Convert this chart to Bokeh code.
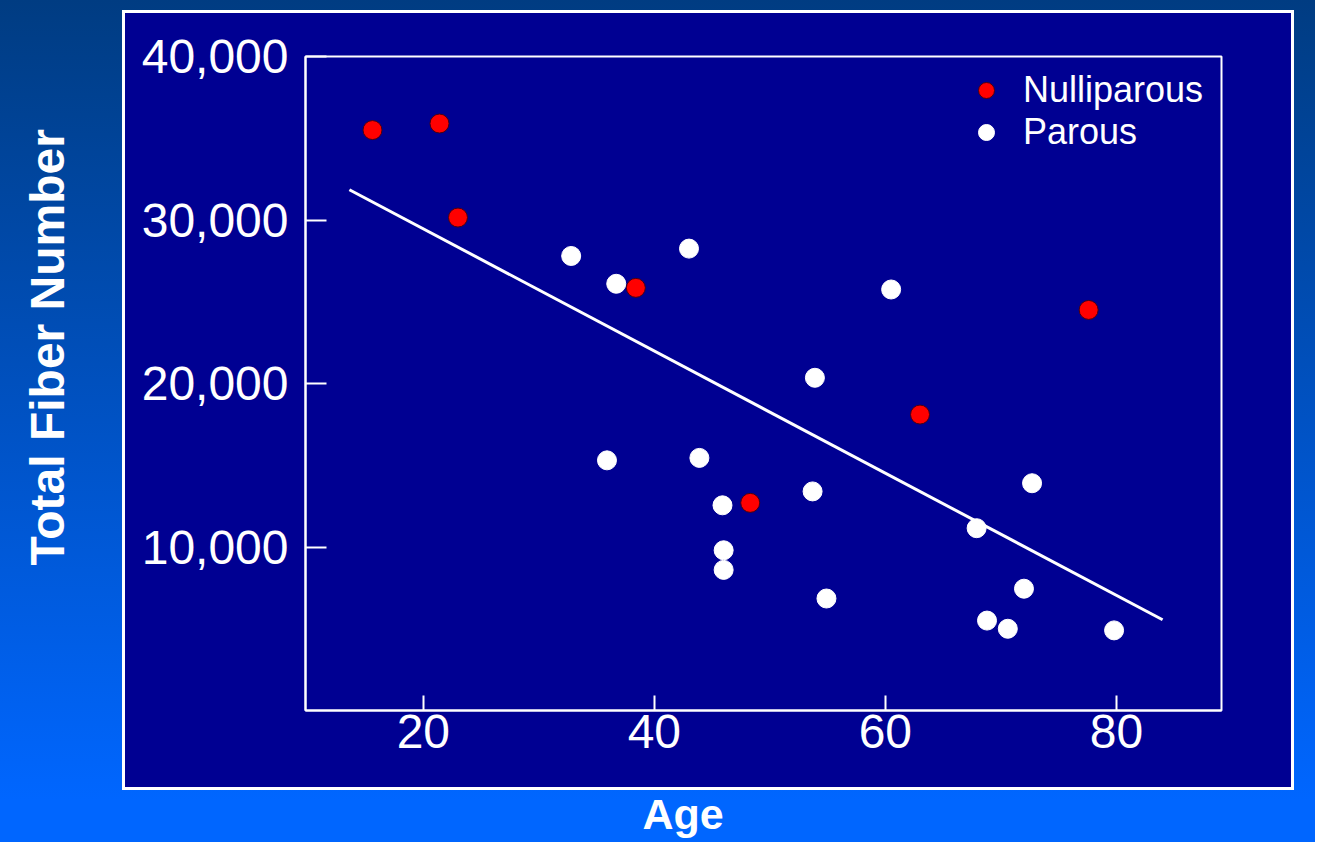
from bokeh.plotting import figure
from bokeh.models import (ColumnDataSource, FixedTicker, NumeralTickFormatter,
                          Legend, LegendItem, Title)
from bokeh.embed import file_html
from bokeh.resources import INLINE

# ---- data ----
nulli_age = [15.6, 21.4, 23.0, 38.4, 48.3, 63.0, 77.6]
nulli_fibers = [35500, 35900, 30150, 25850, 12700, 18100, 24500]

parous_age = [32.8, 36.7, 43.0, 60.5, 53.9, 35.9, 43.9, 45.9, 53.7, 46.0,
              46.0, 54.9, 72.7, 67.9, 72.0, 68.8, 70.6, 79.8]
parous_fibers = [27800, 26100, 28250, 25750, 20350, 15300, 15450, 12550, 13400, 9800,
                 8600, 6850, 13900, 11150, 7450, 5500, 5000, 4900]

fit_age = [13.6, 84.0]
fit_fibers = [31850, 5550]

x_ticks = [20, 40, 60, 80]
y_ticks = [10000, 20000, 30000, 40000]

FONT = "Liberation Sans"
NAVY = "#000092"

p = figure(width=1315, height=842, output_backend="svg", toolbar_location=None,
           x_range=(9.8, 89.1), y_range=(0, 40000),
           min_border_left=305, min_border_right=94,
           min_border_top=56, min_border_bottom=132,
           background_fill_color=NAVY, border_fill_color=None,
           outline_line_color="white", outline_line_width=2)

# page background: blue gradient with a navy, white-edged panel (pure CSS, behind the canvas)
p.styles = {
    "background": (
        f"linear-gradient({NAVY}, {NAVY}) 125px 13px / 1166px 774px no-repeat, "
        "linear-gradient(#ffffff, #ffffff) 122px 10px / 1172px 780px no-repeat, "
        "linear-gradient(to bottom, #003c82 0px, #0066ff 800px, #0066ff 842px)"
    )
}

p.grid.visible = False

# axes
for ax in (p.xaxis[0], p.yaxis[0]):
    ax.axis_line_color = "white"
    ax.axis_line_width = 2
    ax.major_tick_line_color = "white"
    ax.major_tick_line_width = 2
    ax.minor_tick_line_color = None
    ax.major_tick_out = 0
    ax.major_label_text_color = "white"
    ax.major_label_text_font = FONT
    ax.major_label_text_font_size = "48px"

p.xaxis.ticker = FixedTicker(ticks=x_ticks)
p.xaxis.major_tick_in = 15
p.xaxis.major_label_standoff = 4
p.yaxis.ticker = FixedTicker(ticks=y_ticks)
p.yaxis.major_tick_in = 21
p.yaxis.major_label_standoff = 17
p.yaxis.formatter = NumeralTickFormatter(format="0,0")

# regression line
p.line(fit_age, fit_fibers, line_color="white", line_width=3)

src_n = ColumnDataSource(dict(x=nulli_age, y=nulli_fibers))
src_p = ColumnDataSource(dict(x=parous_age, y=parous_fibers))
rn = p.scatter("x", "y", source=src_n, marker="circle", size=19,
               fill_color="#ff0000", line_color="#4a0010", line_width=1)
rp = p.scatter("x", "y", source=src_p, marker="circle", size=19,
               fill_color="white", line_color="white", line_width=1)

legend = Legend(items=[LegendItem(label="Nulliparous", renderers=[rn]),
                       LegendItem(label="Parous", renderers=[rp])],
                location=(661, 557), glyph_width=40, glyph_height=40,
                label_standoff=17, spacing=0, padding=0, margin=0,
                border_line_alpha=0, background_fill_alpha=0,
                label_text_color="white", label_text_font=FONT,
                label_text_font_size="36px")
p.add_layout(legend)

# spacers between the axes and the axis titles
p.add_layout(Title(text=" ", text_font_size="1px", standoff=60), "left")
p.add_layout(Title(text=" ", text_font_size="1px", standoff=36), "below")

# axis titles as side titles (drawn outside the frame)
ytitle = Title(text="Total Fiber Number", align="left", offset=145,
               vertical_align="top", standoff=0,
               text_color="white", text_font=FONT, text_font_style="bold",
               text_font_size="48px")
p.add_layout(ytitle, "left")

xtitle = Title(text="Age", align="left", offset=337,
               vertical_align="top", standoff=0,
               text_color="white", text_font=FONT, text_font_style="bold",
               text_font_size="43px")
p.add_layout(xtitle, "below")

open("out.html", "w").write(file_html(p, INLINE))
